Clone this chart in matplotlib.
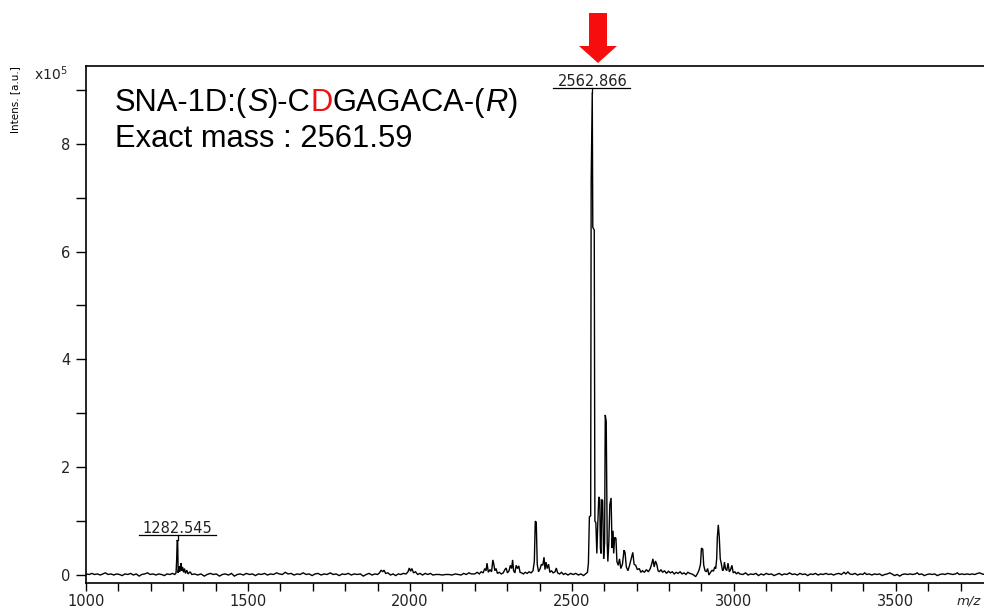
import matplotlib
matplotlib.use("Agg")
import matplotlib.pyplot as plt
from matplotlib.patches import Polygon
from matplotlib.ticker import MultipleLocator

# ---- spectrum (m/z, intensity in units of 1e5 a.u.) ----
mz = [
    1000, 1010, 1018, 1026, 1035, 1044, 1052, 1060, 1068, 1077, 1086, 1094, 1103, 1112,
    1120, 1129, 1138, 1146, 1155, 1164, 1172, 1181, 1190, 1198, 1207, 1216, 1224, 1233,
    1242, 1250, 1259, 1267, 1274, 1278, 1280, 1281.5, 1283, 1284.5, 1287, 1289, 1291,
    1293, 1295, 1298, 1301, 1304, 1307, 1311, 1315, 1321, 1327,
    1335, 1345, 1355, 1365, 1374, 1384, 1393, 1402, 1412, 1421, 1430, 1440, 1449, 1458,
    1467, 1476, 1486, 1495, 1504, 1514, 1523, 1532, 1542, 1551, 1560, 1570, 1579, 1588,
    1597, 1606, 1615, 1624, 1633, 1642, 1652, 1661, 1670, 1680, 1689, 1698, 1707, 1716,
    1726, 1735, 1744, 1754, 1763, 1772, 1782, 1791, 1800, 1810, 1819, 1828, 1838, 1847,
    1856, 1865, 1874, 1883, 1892, 1900, 1906, 1911, 1916, 1920, 1925, 1932, 1940, 1948,
    1956, 1964, 1972, 1980, 1988, 1994, 1998, 2002, 2006, 2011, 2017, 2024, 2031, 2039,
    2047, 2055, 2063, 2071, 2080, 2090, 2100, 2110, 2120, 2130, 2140, 2150, 2158, 2166,
    2174, 2182, 2190,
    2200, 2208, 2214, 2220, 2226, 2231, 2235, 2238, 2242, 2247, 2252, 2256, 2259, 2262,
    2266, 2270, 2276, 2282, 2288, 2293, 2297, 2301, 2306, 2310, 2314, 2317, 2320, 2324,
    2328, 2332, 2336, 2340, 2345, 2350, 2356, 2362, 2368, 2374, 2380, 2384, 2387, 2390,
    2393, 2397, 2402, 2406, 2410, 2414, 2417, 2420, 2424, 2428, 2432, 2437, 2442, 2448,
    2452, 2456, 2462, 2468, 2474, 2480, 2488, 2496, 2504, 2512, 2520, 2528, 2536, 2542,
    2548, 2551, 2554, 2558, 2559.5, 2562.866, 2564.5, 2569, 2571, 2574, 2577, 2580, 2583,
    2586, 2588, 2590, 2592, 2595, 2598, 2601, 2603, 2606, 2609, 2611, 2614, 2617, 2621,
    2624, 2627, 2629, 2632, 2636, 2639, 2643, 2647, 2651, 2656, 2661, 2664, 2668, 2673,
    2678, 2683, 2688, 2692, 2697, 2702, 2708, 2713, 2718, 2724, 2730, 2736, 2742, 2747,
    2750, 2754, 2758, 2762, 2766, 2770, 2775, 2780, 2786, 2792, 2798, 2804, 2810, 2816,
    2822, 2828, 2834, 2840, 2846, 2852, 2858, 2864, 2870, 2876, 2882, 2888, 2893, 2897,
    2900, 2904, 2907, 2911, 2915, 2919, 2923, 2928, 2933, 2937, 2941, 2944, 2947, 2949,
    2952, 2955, 2958, 2961, 2965, 2968, 2971, 2974, 2978, 2982, 2986, 2990, 2994, 2998,
    3003, 3008, 3013, 3018,
    3028, 3036, 3044, 3052, 3060, 3068, 3076, 3084, 3092, 3100, 3108, 3116, 3124, 3132,
    3140, 3148, 3156, 3164, 3172, 3180, 3188, 3196, 3204, 3212, 3220, 3228, 3236, 3244,
    3252, 3260, 3268, 3276, 3284, 3292, 3300, 3308, 3316, 3324, 3332, 3340, 3346, 3352,
    3358, 3366, 3374, 3382, 3390, 3398, 3404, 3410, 3418, 3426, 3434, 3442, 3450, 3458,
    3466, 3474, 3481, 3488, 3496, 3504, 3512, 3520, 3528, 3536, 3544, 3552, 3560, 3566,
    3572, 3580, 3588, 3596, 3604, 3612, 3620, 3628, 3636, 3644, 3652, 3660, 3668, 3676,
    3684, 3690, 3696, 3704, 3712, 3720, 3728, 3736, 3744, 3752, 3759, 3766, 3774, 3782,
    3790, 3800,
]
intensity = [
    0.02, 0.01, 0.03, 0.01, 0.02, 0.00, 0.02, 0.04, 0.01, 0.02, 0.00, 0.02, 0.01, -0.01,
    0.02, 0.01, 0.03, 0.00, 0.02, -0.02, 0.01, 0.02, 0.04, 0.01, 0.02, 0.00, 0.02, 0.01,
    -0.01, 0.02, 0.01, 0.03, 0.01, 0.04, 0.30, 0.65, 0.62, 0.04, 0.16, 0.06, 0.12,
    0.22, 0.08, 0.15, 0.05, 0.12, 0.03, 0.09, 0.02, 0.06, 0.01,
    0.02, 0.00, 0.02, -0.02, 0.01, 0.03, 0.01, 0.02, -0.02, 0.01, 0.02, 0.00, 0.03, -0.02,
    0.01, 0.02, 0.00, 0.03, 0.01, 0.02, -0.01, 0.02, 0.01, 0.03, 0.00, 0.02, 0.01, 0.04,
    0.02, 0.01, 0.05, 0.02, 0.03, 0.00, 0.02, 0.01, 0.04, 0.01, 0.02, -0.01, 0.02, 0.03,
    0.00, 0.02, 0.01, 0.04, 0.01, 0.02, -0.01, 0.02, 0.01, 0.03, 0.00, 0.02, 0.01, 0.02,
    -0.02, 0.01, 0.03, 0.00, 0.02, 0.01, 0.04, 0.09, 0.06, 0.09, 0.03, 0.04, 0.00, 0.02,
    -0.01, 0.02, 0.01, 0.03, 0.02, 0.06, 0.13, 0.07, 0.12, 0.04, 0.06, 0.01, 0.03, 0.00,
    0.03, 0.01, 0.03, 0.00, 0.01, 0.01, 0.00, 0.01, 0.01, 0.00, 0.02, 0.01, 0.00, 0.03,
    0.01, 0.04, 0.02,
    0.02, 0.05, 0.02, 0.06, 0.04, 0.12, 0.08, 0.22, 0.05, 0.10, 0.06, 0.28, 0.20, 0.08,
    0.12, 0.03, 0.05, 0.02, 0.04, 0.10, 0.13, 0.04, 0.08, 0.18, 0.12, 0.28, 0.08, 0.04,
    0.18, 0.12, 0.17, 0.05, 0.04, 0.02, 0.05, 0.03, 0.06, 0.04, 0.08, 0.25, 1.00, 0.98,
    0.20, 0.06, 0.12, 0.20, 0.18, 0.33, 0.10, 0.24, 0.12, 0.20, 0.05, 0.08, 0.04, 0.06,
    0.13, 0.04, 0.02, 0.05, 0.01, 0.03, 0.00, 0.03, 0.01, 0.03, 0.00, 0.02, -0.01, 0.02,
    0.05, 0.22, 1.08, 1.10, 7.30, 8.95, 6.45, 6.40, 1.00, 0.97, 0.40, 0.96, 1.45,
    1.40, 0.50, 0.40, 1.40, 1.38, 0.30, 0.60, 2.97, 2.85, 0.60, 0.25, 0.60, 1.30, 1.43,
    0.50, 0.82, 0.40, 0.70, 0.68, 0.25, 0.18, 0.30, 0.12, 0.20, 0.46, 0.42, 0.15, 0.08,
    0.18, 0.30, 0.42, 0.20, 0.18, 0.10, 0.12, 0.05, 0.08, 0.05, 0.10, 0.06, 0.12, 0.22,
    0.30, 0.15, 0.26, 0.20, 0.08, 0.06, 0.10, 0.05, 0.08, 0.03, 0.07, 0.04, 0.06, 0.02,
    0.05, 0.03, 0.06, 0.02, 0.04, 0.01, 0.05, 0.03, 0.02, 0.00, -0.03, 0.03, 0.10, 0.20,
    0.50, 0.48, 0.18, 0.08, 0.06, 0.12, 0.00, 0.05, 0.09, 0.07, 0.15, 0.12, 0.30, 0.70,
    0.93, 0.70, 0.30, 0.22, 0.08, 0.10, 0.24, 0.12, 0.08, 0.22, 0.06, 0.10, 0.18, 0.04,
    0.06, 0.02, 0.05, 0.02,
    0.01, 0.04, 0.00, 0.02, 0.01, 0.03, -0.01, 0.02, 0.00, 0.03, 0.01, 0.02, -0.01, 0.01,
    0.03, 0.00, 0.02, 0.01, 0.04, 0.01, 0.02, 0.00, 0.03, 0.01, 0.02, -0.01, 0.02, 0.01,
    0.03, 0.00, 0.02, 0.01, 0.03, 0.01, 0.02, 0.00, 0.02, 0.03, 0.01, 0.05, 0.02, 0.06,
    0.02, 0.01, 0.03, 0.00, 0.02, 0.01, 0.04, 0.01, 0.02, 0.00, 0.02, 0.01, 0.02, -0.01,
    0.01, 0.02, 0.04, 0.02, -0.01, 0.01, -0.02, 0.01, 0.02, 0.01, 0.02, 0.01, 0.02, 0.04,
    0.01, 0.02, -0.01, 0.01, 0.02, 0.01, 0.02, -0.01, 0.01, 0.02, 0.01, 0.03, 0.02, 0.01,
    0.02, 0.04, 0.01, 0.02, 0.01, 0.02, 0.01, 0.02, 0.01, 0.03, 0.04, 0.02, 0.01, 0.02,
    0.01, 0.02,
]

# labelled peaks: (m/z, label height in 1e5 a.u.)
peak_mz = [1282.545, 2562.866]
peak_top = [0.65, 8.95]
peak_text = ["1282.545", "2562.866"]

x_ticks = [1000, 1500, 2000, 2500, 3000, 3500]
y_ticks = [0, 2, 4, 6, 8]

W, H = 984, 609
fig = plt.figure(figsize=(W / 100, H / 100), dpi=100)
fig.patch.set_facecolor("white")

# axes: left spine at x=86 px, bottom spine at y=583 px, top spine at y=66 px
ax = fig.add_axes([86 / W, 26 / H, 907 / W, 517 / H])
ax.set_xlim(1000, 3800)
ax.set_ylim(-0.148, 9.443)

ax.plot(mz, intensity, color="black", lw=1.0, solid_joinstyle="miter")

for s in ["left", "bottom", "top", "right"]:
    ax.spines[s].set_linewidth(1.2)
    ax.spines[s].set_color("black")

ax.set_xticks(x_ticks)
ax.set_yticks(y_ticks)
ax.xaxis.set_minor_locator(MultipleLocator(100))
ax.yaxis.set_minor_locator(MultipleLocator(1))
ax.tick_params(axis="x", which="both", direction="out", length=6, width=1.0,
               labelsize=10.5, pad=2, labelcolor="#222222")
ax.tick_params(axis="y", which="both", direction="out", length=7, width=1.0,
               labelsize=10.5, pad=4, labelcolor="#222222")
for lab in ax.get_xticklabels() + ax.get_yticklabels():
    lab.set_family("DejaVu Sans")

# peak annotations with underline bar
px_per_unit = 517 / (9.443 + 0.148)
for m, top, txt in zip(peak_mz, peak_top, peak_text):
    bar_y = top + 5 / px_per_unit
    ax.plot([m - 120, m + 118], [bar_y, bar_y], color="black", lw=0.9, clip_on=False)
    ax.plot([m, m], [top, bar_y], color="black", lw=0.9, clip_on=False)
    ax.text(m, bar_y + 1.5 / px_per_unit, txt, ha="center", va="baseline",
            fontsize=10.5, family="DejaVu Sans", color="#222222", clip_on=False)

# axis captions
fig.text(15 / W, 1 - 100 / H, "Intens. [a.u.]", rotation=90, ha="center", va="center",
         fontsize=7.5, family="DejaVu Sans")
fig.text(34 / W, 1 - 80 / H, r"x10$^{5}$", ha="left", va="baseline",
         fontsize=10, family="DejaVu Sans", color="#222222")
fig.text(981 / W, 1 - 605 / H, "m/z", ha="right", va="baseline",
         fontsize=9.5, family="DejaVu Sans", style="italic", color="#222222")

# sequence title, drawn piece by piece
renderer = fig.canvas.get_renderer()


def draw_run(pieces, x_px, y_px, size):
    x = x_px
    for text, color, style in pieces:
        t = fig.text(x / W, 1 - y_px / H, text, ha="left", va="baseline",
                     fontsize=size, family="Liberation Sans", color=color, style=style)
        bb = t.get_window_extent(renderer)
        x = bb.x1


draw_run([
    ("SNA-1D:(", "black", "normal"),
    ("S", "black", "italic"),
    (")-C", "black", "normal"),
    ("D", "#ee1111", "normal"),
    ("GAGACA-(", "black", "normal"),
    ("R", "black", "italic"),
    (")", "black", "normal"),
], 115, 111, 22.2)
draw_run([("Exact mass : 2561.59", "black", "normal")], 115, 147, 22.2)

# red arrow above the main peak
arrow_px = [(589, 13), (607, 13), (607, 46), (617, 46), (598, 63), (579, 46), (589, 46)]
arrow = Polygon([(x / W, 1 - y / H) for x, y in arrow_px], closed=True,
                transform=fig.transFigure, facecolor="#f70d0d", edgecolor="none")
fig.patches.append(arrow)

fig.savefig("out.png", dpi=100, facecolor="white")
